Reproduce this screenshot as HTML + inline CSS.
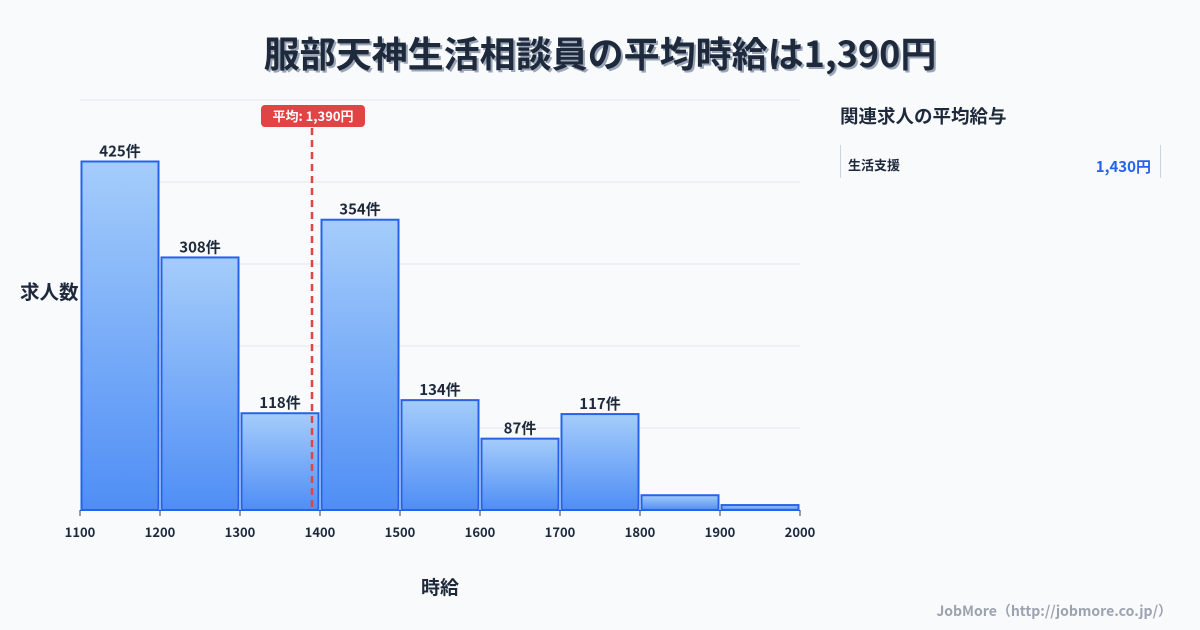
<!DOCTYPE html>
<html><head><meta charset="utf-8"><style>
body{margin:0;background:#f8fafc;font-family:"Noto Sans CJK JP",sans-serif;}
#wrap{position:relative;width:1200px;height:630px;overflow:hidden;background:#f8fafc;}
</style></head><body>
<div id="wrap">
<svg id="svg" width="1200" height="630">
<defs><linearGradient id="g" x1="0" y1="0" x2="0" y2="1"><stop offset="0" stop-color="#a5cdfb"/><stop offset="1" stop-color="#4f8ef5"/></linearGradient></defs>
<text x="600" y="67" text-anchor="middle" font-size="36" font-weight="bold" fill="#9aa6b8" transform="translate(2,2)" font-family="Noto Sans CJK JP,sans-serif">服部天神生活相談員の平均時給は1,390円</text>
<text x="600" y="67" text-anchor="middle" font-size="36" font-weight="bold" fill="#1e293b" font-family="Noto Sans CJK JP,sans-serif">服部天神生活相談員の平均時給は1,390円</text>
<g id="grid"></g><g id="bars"></g><g id="axis"></g>
<text x="20" y="299" font-size="19.5" font-weight="bold" fill="#1e293b" font-family="Noto Sans CJK JP,sans-serif">求人数</text>
<text x="440" y="594" text-anchor="middle" font-size="19" font-weight="bold" fill="#1e293b" font-family="Noto Sans CJK JP,sans-serif">時給</text>
<text x="840" y="123" font-size="18.5" font-weight="bold" fill="#1e293b" font-family="Noto Sans CJK JP,sans-serif">関連求人の平均給与</text>
<line x1="840.5" y1="145" x2="840.5" y2="178" stroke="#cbd5e1"/>
<line x1="1160.5" y1="145" x2="1160.5" y2="178" stroke="#cbd5e1"/>
<text x="848" y="170" font-size="13" font-weight="bold" fill="#1e293b" font-family="Noto Sans CJK JP,sans-serif">生活支援</text>
<text x="1151" y="172" text-anchor="end" font-size="15" font-weight="bold" fill="#2563eb" font-family="Noto Sans CJK JP,sans-serif">1,430円</text>
<text x="1172" y="616" text-anchor="end" font-size="14" font-weight="bold" fill="#9ca3af" font-family="Noto Sans CJK JP,sans-serif">JobMore（http://jobmore.co.jp/）</text>
</svg></div>
<script>
const binStarts=[1100,1200,1300,1400,1500,1600,1700,1800,1900];
const counts=[425,308,118,354,134,87,117,18,6];
const labels=["425件","308件","118件","354件","134件","87件","117件","",""];
const xTicks=[1100,1200,1300,1400,1500,1600,1700,1800,1900,2000];
const yGrid=[0,100,200,300,400,500];
const average=1390;
const avgLabel="平均: 1,390円";
const binW=100;
const NS="http://www.w3.org/2000/svg";
const x=v=>80+(v-1100)*0.8;
const y=v=>510-v*0.82;
function mk(t,a,p){const e=document.createElementNS(NS,t);for(const k in a)e.setAttribute(k,a[k]);p.appendChild(e);return e;}
const F="Noto Sans CJK JP,sans-serif";
const grid=document.getElementById('grid'),bars=document.getElementById('bars'),axis=document.getElementById('axis');
yGrid.forEach(v=>{const l=mk('line',{x1:80,x2:800,y1:y(v),y2:y(v),stroke:'#e5e7eb','stroke-width':1},grid);

});
binStarts.forEach((b,i)=>{
 const r=mk('rect',{x:x(b)+1.5,y:y(counts[i]),width:binW*0.8-3,height:510-y(counts[i]),fill:'url(#g)',stroke:'#2563eb','stroke-width':2},bars);
 
 
 if(labels[i]){const t=mk('text',{x:x(b+binW/2),y:y(counts[i])-5,'text-anchor':'middle','font-size':15,'font-weight':'bold',fill:'#1e293b','font-family':F},bars);t.textContent=labels[i];
 
 }
});
xTicks.forEach(v=>{mk('line',{x1:x(v),x2:x(v),y1:510,y2:516,stroke:'#334155'},axis);
 const t=mk('text',{x:x(v),y:537,'text-anchor':'middle','font-size':13,'font-weight':'bold',fill:'#1e293b','font-family':F},axis);t.textContent=v;
 
 });
const ax=x(average);
const al=mk('line',{x1:ax,x2:ax,y1:128,y2:510,stroke:'#e04444','stroke-width':2.5,'stroke-dasharray':'7,5'},axis);


const ab=mk('rect',{x:ax-51,y:105,width:104,height:22,rx:4,fill:'#e04444'},axis);


const at=mk('text',{x:ax+1,y:121,'text-anchor':'middle','font-size':13,'font-weight':'bold',fill:'#fff','font-family':F},axis);at.textContent=avgLabel;


</script></body></html>
